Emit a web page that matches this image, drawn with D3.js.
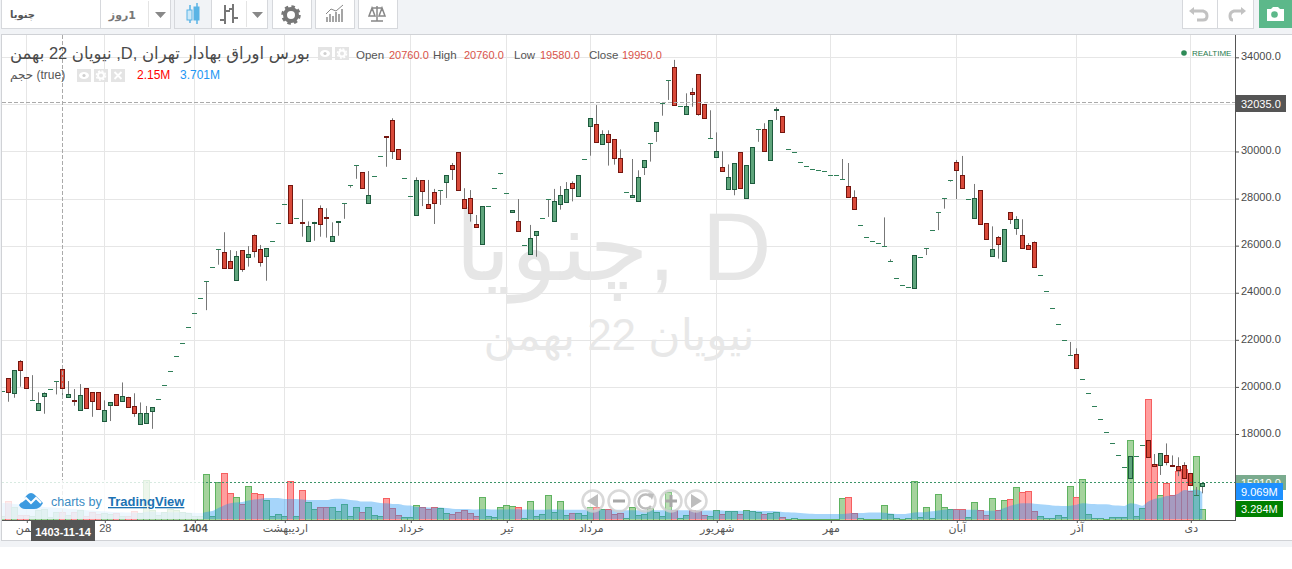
<!DOCTYPE html>
<html>
<head>
<meta charset="utf-8">
<script src="https://cdn.jsdelivr.net/npm/d3@7"></script>
<style>
  html, body { margin: 0; padding: 0; background: #fff; overflow: hidden; }
  svg { display: block; font-family: "Liberation Sans", Arial, "DejaVu Sans", sans-serif; }
</style>
</head>
<body>
<svg id="chart" width="1292" height="569"></svg>
<script>
// daily bars
let opens = [
  19810,20360,19730,21090,20410,19430,19000,19620,19900,20240,
  20760,19580,19440,19000,19920,19770,19770,18540,19220,19670,
  19390,19580,19170,18410,18450,18960,19470,20070,20660,21300,
  21850,22540,23140,23780,24480,25080,25840,25720,25330,24530,
  25800,25500,26440,25840,25550,26180,26950,27760,28550,27160,
  26990,26180,26990,27590,27200,26180,27000,27800,28560,29410,
  29120,27820,28950,29790,30640,31320,30090,28860,28100,27290,
  28780,27760,28270,28350,28690,29410,29960,27970,28010,26910,
  26060,27670,28440,29070,28220,27420,27030,26010,25630,26440,
  27160,27970,27030,27760,27840,28650,28100,29670,31070,31150,
  30300,30730,30520,29710,28270,28040,27880,29330,30350,30860,
  32050,33020,33580,31920,31580,32510,33280,32000,30560,29750,
  29330,28390,28390,29960,28010,28650,30940,30940,29620,31730,
  31490,30090,29960,29540,29370,29240,29200,29160,28990,28990,
  28820,28520,28050,26860,26350,26180,26100,25970,25330,24610,
  24320,24230,24190,25500,25890,26650,27420,28010,28780,29540,
  28990,27970,27160,28350,26950,25550,26350,25330,27420,26740,
  26440,26010,26140,24740,24060,23340,22660,21980,21340,21380,
  20320,19730,19170,18620,18070,17600,17090,16580,16120,17050,
  17520,17730,16710,16670,17090,16670,16630,16670,16330,15390,15780
];
let highs = [
  19810,20360,20690,21140,20410,20500,19770,19770,19900,20240,
  20760,20250,19910,20120,19920,19770,19770,19430,19340,19670,
  20190,19580,19730,19340,19190,19130,19470,20070,20660,21300,
  21850,22540,23140,23780,24480,25080,25840,26570,25810,25770,
  25800,25980,26480,26030,25890,26180,26950,27760,28550,27160,
  27970,27030,27010,27710,27590,26990,27030,27800,28560,29410,
  29120,29170,28950,29790,30640,31410,30090,28860,28100,28900,
  28780,28790,28410,28350,28990,29510,29960,28440,28360,27300,
  27670,27670,28440,29070,28220,27500,27980,26010,26880,26610,
  27160,27970,28410,28530,28700,28730,28990,29670,31410,31970,
  30900,30900,30520,30090,28270,29680,29200,29620,30350,31240,
  32050,33020,33890,31920,32470,32700,33280,32000,31750,30810,
  30010,29450,29500,29960,29410,30180,30940,31200,31320,31880,
  31490,30090,29960,29540,29370,29240,29200,29160,28990,28990,
  29680,29510,28350,26860,26350,26180,26100,27200,25420,24610,
  24320,24230,25590,25500,25890,26650,27420,28010,28780,29640,
  29810,27970,28620,28350,26950,26820,26410,26690,27420,27250,
  27120,26110,26180,24740,24060,23340,22660,21980,21910,21640,
  20320,19730,19170,18620,18070,17600,17090,16580,17050,17050,
  17520,17730,17150,17180,17600,17090,17010,16800,16330,15750,15910
];
let lows = [
  19810,19370,19540,20010,19940,19430,19000,18860,19900,19680,
  19580,19580,19200,19000,19090,18730,19050,18540,18550,19220,
  19390,19130,18730,18410,18450,18220,19470,20070,20660,21300,
  21850,22540,23140,23780,23260,25080,25190,25040,25040,24530,
  24890,25110,25500,25110,24510,26180,26950,27760,26950,27160,
  26380,26180,26210,26380,26340,26180,26420,27140,28460,28840,
  28440,27770,28950,29790,29350,29680,29670,28860,28100,27290,
  27680,27590,26920,27730,28020,28790,28350,27590,27020,26800,
  26060,27670,28440,29030,28220,27420,26610,26010,25630,25530,
  27160,27220,27030,27530,27840,27880,28100,29670,29820,30390,
  30300,29400,29440,29120,28270,28040,27880,29000,29570,30410,
  31520,32190,31960,31920,31580,31900,31520,31410,30560,29750,
  29160,28390,28140,28440,28010,28650,30410,29990,29620,31340,
  30810,30090,29960,29540,29370,29240,29200,29160,28990,28990,
  28820,28050,27540,26860,26350,26180,26100,25970,25330,24610,
  24320,24230,24190,25500,25600,26650,26660,27570,28720,27980,
  28440,27970,27160,26910,26270,25550,25450,25330,26920,26460,
  25890,25840,25080,24740,24060,23340,22660,21980,21340,20790,
  20320,19730,19170,18620,18070,17600,17090,16580,16120,17050,
  17520,17010,16610,16260,16670,16610,16210,16120,15820,15390,15480
];
let closes = [
  19810,19770,20690,20690,19940,19430,19300,19730,19900,20240,
  19950,19680,19420,19640,19090,19370,19050,19000,19340,19220,
  19600,19130,18880,18880,18880,19130,19470,20070,20660,21300,
  21850,22540,23140,23780,24480,25080,25840,25040,25040,25550,
  24990,25630,25760,25290,25890,26180,26950,27760,26950,27160,
  26960,26820,27010,26910,27170,26400,27030,27800,28560,29410,
  28440,28140,28950,29790,30610,29990,29670,28860,28100,28780,
  28310,27590,27800,28350,28990,29240,28350,27590,27370,26800,
  27670,27670,28440,29070,28220,27500,26610,26010,26310,26610,
  27160,27970,27880,28140,28390,28440,28990,29670,31410,30390,
  30730,30390,29710,29120,28270,28140,28900,29620,30350,31240,
  32050,33020,31960,31920,31920,32430,31600,31410,30560,30010,
  29160,28900,29500,28440,29410,30180,30940,29990,31320,31800,
  30810,30090,29960,29540,29370,29240,29200,29160,28990,28990,
  28820,28050,27540,26860,26350,26180,26100,25970,25330,24610,
  24320,24230,25590,25500,25890,26650,27420,28010,28780,29200,
  28440,27970,28010,26910,26270,25840,26060,26690,27120,27120,
  25890,25840,25080,24740,24060,23340,22660,21980,21340,20790,
  20320,19730,19170,18620,18070,17600,17090,16580,17050,17050,
  17520,17010,16610,17180,16800,16610,16460,16120,15820,15390,15910
];
// volume in millions
let volumes = [
  1.0,6.0,4.1,1.4,1.4,0.8,3.1,3.4,0.7,2.4,
  2.15,1.4,2.4,3.1,1.0,2.4,1.7,2.0,1.7,2.0,
  1.0,1.0,2.7,2.0,13.2,3.1,1.4,2.4,3.4,3.1,
  2.4,2.0,1.0,1.0,15.2,0.9,12.4,15.5,8.7,7.4,
  5.1,11.1,8.7,8.4,6.3,0.9,1.6,0.9,12.8,0.9,
  9.7,5.7,3.3,4.0,4.0,4.0,2.6,5.0,0.9,4.0,
  2.3,4.0,1.3,0.9,7.0,3.6,1.3,0.6,0.6,4.6,
  4.0,3.3,4.0,3.6,1.9,1.6,2.3,2.9,1.9,0.9,
  7.4,0.9,0.6,4.0,4.6,4.3,4.0,0.2,6.0,0.9,
  1.6,8.0,2.3,6.0,1.3,1.9,1.9,1.3,4.0,4.0,
  3.3,3.3,1.6,1.9,0.2,4.0,1.3,1.6,3.6,2.3,
  0.9,9.1,2.9,0.2,1.3,2.9,2.6,1.3,0.9,2.9,
  1.6,2.6,2.6,1.6,2.9,2.6,2.3,1.6,1.9,2.3,
  0.6,0,0.2,0,0,0,0,0,0,0,
  7.0,7.4,1.9,0.2,0,0,0,4.6,1.6,0.2,
  0,0.2,12.8,0.6,4.0,0.2,8.4,4.0,3.3,3.3,
  3.3,0.6,5.7,2.9,1.3,7.0,2.9,6.3,6.7,10.7,
  9.1,9.4,2.6,0.9,0.2,0.2,1.3,0.6,11.1,7.4,
  13.5,1.6,0.3,0.2,0,0.6,0.6,0.6,26.7,0.9,
  3.6,40.6,18.5,8.0,12.1,8.0,16.2,17.0,9.4,21.3,3.284
];
let volumeAvg = [
  5.4,5.3,5.1,4.9,4.7,4.5,4.3,4.1,4.0,3.8,
  3.701,3.5,3.4,3.2,3.0,2.9,2.7,2.6,2.5,2.4,
  2.3,2.2,2.2,2.1,2.5,2.5,2.4,2.3,2.3,2.3,
  2.3,2.2,2.1,2.0,2.4,2.7,3.7,4.7,5.3,5.6,
  5.8,6.3,6.6,6.8,7.1,7.1,7.1,6.8,6.8,6.8,
  6.6,6.4,6.4,6.4,6.4,6.8,6.9,6.8,6.4,6.3,
  5.9,5.9,5.8,5.4,5.3,5.1,5.1,4.7,4.6,4.1,
  4.1,3.9,3.9,3.9,3.7,3.5,3.4,3.4,3.3,3.2,
  3.4,3.3,3.2,3.2,3.2,3.3,3.3,3.2,3.2,3.1,
  3.1,3.2,3.2,3.2,3.1,3.1,3.1,3.1,3.1,3.2,
  3.2,3.2,3.1,3.1,3.0,3.0,3.0,3.0,3.0,3.0,
  3.0,3.1,3.1,3.0,3.0,3.0,3.0,2.9,2.9,2.9,
  2.9,2.8,2.8,2.8,2.8,2.8,2.8,2.7,2.7,2.6,
  2.4,2.3,2.2,2.0,1.9,1.8,1.7,1.7,1.7,1.7,
  1.7,1.9,2.0,2.0,2.1,2.2,2.2,2.1,1.9,1.7,
  1.7,1.9,2.2,2.3,2.4,2.6,2.9,3.1,3.3,3.2,
  3.1,3.1,3.1,3.0,2.8,2.8,3.0,3.7,4.5,5.0,
  5.3,5.3,5.2,5.0,4.8,4.6,4.5,4.4,4.5,4.8,
  5.3,5.2,5.1,5.0,5.0,4.7,4.6,4.4,5.3,5.1,
  4.5,5.9,6.8,7.1,7.8,8.0,8.6,9.8,9.7,10.0,9.069
];
let priceTicks = [34000,32000,30000,28000,26000,24000,22000,20000,18000];
let timeTickBars = [4,17,32,47,68,84,98,119,138,159,179,198];
let timeTickLabels = ["بهمن","28","1404","اردیبهشت","خرداد","تیر","مرداد","شهریور","مهر","آبان","آذر","دی"];
let crossBar = 10, crossPrice = 32035, lastPrice = 15910;

var svg = d3.select("#chart");
var pane = {left: 2, right: 1235, top: 35, bottom: 520};

var xScale = d3.scaleLinear().domain([0, opens.length - 1]).range([2.3, 1202.3]);
var yScale = d3.scaleLinear().domain([34000, 18000]).range([57.3, 434]);
var volScale = d3.scaleLinear().domain([0, 44]).range([519, 389.2]);

var isUp = function(i) { return closes[i] >= opens[i]; };
var bars = d3.range(opens.length);
var snap = function(v) { return Math.floor(v + 0.2) + 0.5; };
var barX = function(i) { return Math.round(xScale(i)) + 0.5; };

// page background and chart frame
svg.append("rect").attr("x", 0).attr("y", 0).attr("width", 1292).attr("height", 547).attr("fill", "#f1f3f6");
svg.append("rect").attr("x", 1.5).attr("y", 34.5).attr("width", 1300).attr("height", 506)
  .attr("fill", "#fff").attr("stroke", "#d0d2d6");

// grid
svg.append("g").selectAll("line").data(priceTicks).join("line")
  .attr("x1", pane.left).attr("x2", pane.right)
  .attr("y1", d => Math.round(yScale(d)) + 0.5).attr("y2", d => Math.round(yScale(d)) + 0.5)
  .attr("stroke", "#e6e6e6");
svg.append("g").selectAll("line").data(timeTickBars).join("line")
  .attr("x1", d => barX(d)).attr("x2", d => barX(d))
  .attr("y1", pane.top).attr("y2", pane.bottom)
  .attr("stroke", "#e6e6e6");

// watermarks
svg.append("text").attr("x", 613).attr("y", 280).attr("text-anchor", "middle")
  .attr("font-size", 96).attr("fill", "#e6e6e6").attr("font-family", "'Liberation Sans','DejaVu Sans',sans-serif")
  .text("چنویا, D");
svg.append("text").attr("x", 619).attr("y", 350).attr("text-anchor", "middle")
  .attr("font-size", 44).attr("fill", "#e8e8e8")
  .text("نیویان 22 بهمن");

var clip = svg.append("defs").append("clipPath").attr("id", "pane");
clip.append("rect").attr("x", pane.left).attr("y", pane.top)
  .attr("width", pane.right - pane.left).attr("height", pane.bottom - pane.top);
var plot = svg.append("g").attr("clip-path", "url(#pane)");

// volume bars with the average area on top
plot.append("g").selectAll("rect").data(bars).join("rect")
  .attr("x", i => barX(i) - 3)
  .attr("width", 6)
  .attr("y", i => snap(volScale(volumes[i])))
  .attr("height", i => Math.max(0, 520.5 - snap(volScale(volumes[i]))))
  .attr("fill", i => isUp(i) ? "#a5d39d" : "#ff9e9e")
  .attr("stroke", i => isUp(i) ? "#5fb360" : "#f65f60");
plot.append("path").datum(bars)
  .attr("d", d3.area().x(i => xScale(i)).y0(volScale(0)).y1(i => volScale(volumeAvg[i])).curve(d3.curveMonotoneX))
  .attr("fill", "#2196f3").attr("fill-opacity", 0.4);

// tradingview attribution sits over the volume
svg.append("rect").attr("x", 2).attr("y", 480).attr("width", 201).attr("height", 39)
  .attr("fill", "#fff").attr("fill-opacity", 0.8);
svg.append("path").attr("d", "M19 505 L27 495 Q31 491 35 495 L43 503 Q40 509 34 509 L25 509 Q21 509 19 505 Z")
  .attr("fill", "#3c9ae0");
svg.append("path").attr("d", "M21 502 L26 498 L31 503 L36 498 L41 503")
  .attr("fill", "none").attr("stroke", "#fff").attr("stroke-width", 2);
svg.append("text").attr("x", 51).attr("y", 506).attr("font-size", 12.5).attr("fill", "#3b8cc4").text("charts by");
svg.append("text").attr("x", 108).attr("y", 506).attr("font-size", 13).attr("font-weight", "bold")
  .attr("fill", "#1c72b3").attr("text-decoration", "underline").text("TradingView");

// candles
plot.append("g").selectAll("line").data(bars).join("line")
  .attr("x1", i => barX(i)).attr("x2", i => barX(i))
  .attr("y1", i => yScale(highs[i])).attr("y2", i => yScale(lows[i]))
  .attr("stroke", "#777");
plot.append("g").selectAll("rect").data(bars.filter(i => opens[i] !== closes[i])).join("rect")
  .attr("x", i => barX(i) - 2)
  .attr("width", 4)
  .attr("y", i => snap(yScale(Math.max(opens[i], closes[i]))))
  .attr("height", i => Math.max(1, snap(yScale(Math.min(opens[i], closes[i]))) - snap(yScale(Math.max(opens[i], closes[i])))))
  .attr("fill", i => isUp(i) ? "#5fa57c" : "#d94a3a")
  .attr("stroke", i => isUp(i) ? "#1d5a3d" : "#74160f");
plot.append("g").selectAll("line").data(bars.filter(i => opens[i] === closes[i])).join("line")
  .attr("x1", i => barX(i) - 2.5).attr("x2", i => barX(i) + 2.5)
  .attr("y1", i => snap(yScale(closes[i]))).attr("y2", i => snap(yScale(closes[i])))
  .attr("stroke", "#2f7f58");

// last price and crosshair
plot.append("line").attr("x1", pane.left).attr("x2", pane.right)
  .attr("y1", 482.5).attr("y2", 482.5)
  .attr("stroke", "#3c9468").attr("stroke-dasharray", "2 2");
plot.append("line").attr("x1", pane.left).attr("x2", pane.right).attr("y1", 102.5).attr("y2", 102.5)
  .attr("stroke", "#aaa").attr("stroke-dasharray", "4 2");
plot.append("line").attr("x1", barX(crossBar)).attr("x2", barX(crossBar))
  .attr("y1", pane.top).attr("y2", pane.bottom)
  .attr("stroke", "#aaa").attr("stroke-dasharray", "4 2");

// navigation buttons
var navX = [593, 619, 645, 671, 696];
svg.append("g").selectAll("circle").data(navX).join("circle")
  .attr("cx", d => d).attr("cy", 501).attr("r", 10.5)
  .attr("fill", "#fff").attr("fill-opacity", 0.25).attr("stroke", "#cfcfcf").attr("stroke-opacity", 0.8).attr("stroke-width", 2.5);
svg.append("path").attr("d", "M598 494 V508 L587 501 Z").attr("fill", "#bdbdbd");
svg.append("path").attr("d", "M691 494 V508 L702 501 Z").attr("fill", "#bdbdbd");
svg.append("path").attr("d", "M613 501 H625 M665 501 H677 M671 495 V507").attr("stroke", "#a8a8a8").attr("stroke-width", 3);
svg.append("path").attr("d", "M651 497 A7 7 0 1 0 651 506").attr("fill", "none").attr("stroke", "#bdbdbd").attr("stroke-width", 2.5);
svg.append("path").attr("d", "M648 493 L654 494 L652 500 Z").attr("fill", "#bdbdbd");

// axes
var xAxis = d3.axisBottom(d3.scaleLinear().domain(xScale.domain()).range([2.8, 1202.8]))
  .tickValues(timeTickBars).tickSize(3).tickSizeOuter(0)
  .tickFormat((d, i) => timeTickLabels[i]);
var gx = svg.append("g").attr("transform", "translate(0,520)").call(xAxis);
gx.select(".domain").remove();
svg.append("line").attr("x1", 2).attr("x2", 1235).attr("y1", 520.5).attr("y2", 520.5).attr("stroke", "#555");
gx.selectAll("text").attr("font-size", 11).attr("fill", "#555").attr("y", 4).attr("dy", "0.71em")
  .attr("font-family", "'Liberation Sans','DejaVu Sans',sans-serif");
gx.selectAll("line").attr("stroke", "#555");
gx.selectAll(".tick").filter((d, i) => timeTickLabels[i] === "1404").select("text").attr("font-weight", "bold");

var yAxis = d3.axisRight(yScale).tickValues(priceTicks).tickSize(4).tickSizeOuter(0)
  .tickFormat(d => d3.format(".1f")(d));
var gy = svg.append("g").attr("transform", "translate(1235,0)").call(yAxis);
gy.select(".domain").remove();
svg.append("line").attr("x1", 1235.5).attr("x2", 1235.5).attr("y1", 35).attr("y2", 521).attr("stroke", "#555");
gy.selectAll("text").attr("font-size", 11).attr("fill", "#4a4a4a").attr("x", 6).attr("dy", "0.2em");
gy.selectAll("line").attr("stroke", "#555");

// price and volume flags
function flag(y0, h, w, bg, label) {
  svg.append("rect").attr("x", 1236).attr("y", y0).attr("width", w).attr("height", h).attr("fill", bg);
  svg.append("text").attr("x", 1241).attr("y", y0 + h / 2 + 4).attr("font-size", 11)
    .attr("fill", "#fff").text(label);
}
flag(95, 17, 50, "#555", d3.format(".1f")(crossPrice));
flag(475, 15, 50, "#7aab8e", d3.format(".1f")(lastPrice));
flag(483, 17, 47, "#1e90ff", d3.format(".3f")(volumeAvg[volumeAvg.length - 1]) + "M");
flag(501, 16, 47, "#008000", d3.format(".3f")(volumes[volumes.length - 1]) + "M");

// crosshair date
svg.append("rect").attr("x", 31).attr("y", 521).attr("width", 64).attr("height", 20).attr("fill", "#555");
svg.append("text").attr("x", 63).attr("y", 536).attr("text-anchor", "middle").attr("font-size", 11)
  .attr("font-weight", "bold").attr("fill", "#fff").text("1403-11-14");

// legend
svg.append("text").attr("x", 10).attr("y", 59).attr("font-size", 16.5).attr("fill", "#4a4a4a")
  .attr("font-family", "'Liberation Sans','DejaVu Sans',sans-serif")
  .text("نیویان 22 بهمن ,D, بورس اوراق بهادار تهران");
var legendIcons = [[318, 47, "eye"], [335, 47, "gear"], [77, 69, "eye"], [94, 69, "gear"], [111, 69, "close"]];
svg.append("g").selectAll("rect").data(legendIcons).join("rect")
  .attr("x", d => d[0]).attr("y", d => d[1]).attr("width", 14).attr("height", 13).attr("fill", "#e4e4e4");
legendIcons.forEach(function(d) {
  var cx = d[0] + 7, cy = d[1] + 6.5;
  if (d[2] === "close") {
    svg.append("path").attr("d", "M" + (cx - 3.5) + " " + (cy - 3.5) + " L" + (cx + 3.5) + " " + (cy + 3.5) + " M" + (cx + 3.5) + " " + (cy - 3.5) + " L" + (cx - 3.5) + " " + (cy + 3.5))
      .attr("stroke", "#fff").attr("stroke-width", 1.8);
  } else if (d[2] === "eye") {
    svg.append("ellipse").attr("cx", cx).attr("cy", cy).attr("rx", 5).attr("ry", 3.5).attr("fill", "#fff");
    svg.append("circle").attr("cx", cx).attr("cy", cy).attr("r", 1.6).attr("fill", "#cfcfcf");
  } else {
    svg.append("circle").attr("cx", cx).attr("cy", cy).attr("r", 3).attr("fill", "none").attr("stroke", "#fff").attr("stroke-width", 2);
    svg.append("circle").attr("cx", cx).attr("cy", cy).attr("r", 4.6).attr("fill", "none").attr("stroke", "#fff").attr("stroke-width", 1.4).attr("stroke-dasharray", "2 1.6");
  }
});

var ohlcLabels = [["Open", 356, 20760, 389], ["High", 433, 20760, 464], ["Low", 514, 19580, 540], ["Close", 589, 19950, 622]];
ohlcLabels.forEach(function(d) {
  svg.append("text").attr("x", d[1]).attr("y", 59).attr("font-size", 11.5).attr("fill", "#555").text(d[0]);
  svg.append("text").attr("x", d[3]).attr("y", 59).attr("font-size", 11).attr("fill", "#d9534a").text(d3.format(".1f")(d[2]));
});
svg.append("text").attr("x", 10).attr("y", 79).attr("font-size", 12).attr("fill", "#555")
  .attr("font-family", "'Liberation Sans','DejaVu Sans',sans-serif").text("حجم (true)");
svg.append("text").attr("x", 137).attr("y", 79).attr("font-size", 12).attr("fill", "#ff0000").text(volumes[crossBar] + "M");
svg.append("text").attr("x", 180).attr("y", 79).attr("font-size", 12).attr("fill", "#2196f3").text(volumeAvg[crossBar] + "M");

svg.append("circle").attr("cx", 1184).attr("cy", 53).attr("r", 2.8).attr("fill", "#2e8b57");
svg.append("text").attr("x", 1192).attr("y", 56).attr("font-size", 8).attr("fill", "#1f7a4d").text("REALTIME");

// toolbar
var boxes = [[1, 99], [100, 70], [174, 37], [211, 56], [272, 39], [315, 39], [358, 39], [1182, 35], [1217, 36]];
svg.append("g").selectAll("rect").data(boxes).join("rect")
  .attr("x", d => d[0] + 0.5).attr("y", -1).attr("width", d => d[1]).attr("height", 29.5)
  .attr("fill", (d, i) => i === 2 ? "#f1f3f6" : "#fff").attr("stroke", "#d6d8dc");
svg.append("rect").attr("x", 1259).attr("y", 0).attr("width", 33).attr("height", 28).attr("fill", "#5cb88a");
svg.append("text").attr("x", 10).attr("y", 18).attr("font-size", 10).attr("font-weight", "bold").attr("fill", "#555")
  .attr("font-family", "'DejaVu Sans',sans-serif").text("چنویا");
svg.append("text").attr("x", 136).attr("y", 19).attr("font-size", 11).attr("font-weight", "bold").attr("fill", "#777")
  .attr("font-family", "'DejaVu Sans',sans-serif").style("direction", "rtl").text("1روز");
svg.append("path").attr("d", "M155 12 H166 L160.5 18 Z M252 12 H263 L257.5 18 Z").attr("fill", "#888");
svg.append("path").attr("d", "M148.5 1 V27 M246.5 1 V27").attr("stroke", "#e4e4e4");
// chart style icons
svg.append("path").attr("d", "M190 5 V23 M197 3 V24").attr("stroke", "#5ab4e5").attr("stroke-width", 1.5);
svg.append("rect").attr("x", 187).attr("y", 10).attr("width", 5).attr("height", 10).attr("fill", "#cde9f8").attr("stroke", "#5ab4e5");
svg.append("rect").attr("x", 194).attr("y", 7).attr("width", 5).attr("height", 13).attr("fill", "#5ab4e5").attr("stroke", "#5ab4e5");
svg.append("path").attr("d", "M225 5 V24 M220 20 H225 M225 11 H230 M233 4 V23 M229 9 H233 M233 18 H238")
  .attr("fill", "none").attr("stroke", "#777").attr("stroke-width", 2);
// gear
svg.append("circle").attr("cx", 291).attr("cy", 15).attr("r", 6).attr("fill", "none").attr("stroke", "#777").attr("stroke-width", 4);
svg.append("circle").attr("cx", 291).attr("cy", 15).attr("r", 8.5).attr("fill", "none").attr("stroke", "#777").attr("stroke-width", 2.5).attr("stroke-dasharray", "3.5 3.2");
// indicators
svg.append("path").attr("d", "M327 22 V17 M330 22 V14 M333 22 V16 M336 22 V12 M339 22 V14 M342 22 V9").attr("stroke", "#888").attr("stroke-width", 1.5);
svg.append("path").attr("d", "M326 14 L331 9 L336 11 L343 5").attr("fill", "none").attr("stroke", "#888");
// compare scales
svg.append("path").attr("d", "M377 6 V21 M371 21 H383 M372 8 H382 M372 8 L369 16 H375 Z M382 8 L379 16 H385 Z")
  .attr("fill", "none").attr("stroke", "#888").attr("stroke-width", 1.5);
// undo, redo, camera
svg.append("path").attr("d", "M1193 11 H1203 Q1207 12 1207 16 Q1207 20 1203 20 H1197").attr("fill", "none").attr("stroke", "#c2c2c2").attr("stroke-width", 3);
svg.append("path").attr("d", "M1194 7 L1194 15 L1189 11 Z").attr("fill", "#c2c2c2");
svg.append("path").attr("d", "M1242 11 H1234 Q1230 12 1230 16 Q1230 20 1233 20").attr("fill", "none").attr("stroke", "#c2c2c2").attr("stroke-width", 3);
svg.append("path").attr("d", "M1241 7 L1241 15 L1246 11 Z").attr("fill", "#c2c2c2");
svg.append("path").attr("d", "M1267 9 H1271 L1273 7 H1278 L1280 9 H1284 V21 H1267 Z").attr("fill", "#fff");
svg.append("circle").attr("cx", 1274.5).attr("cy", 14.5).attr("r", 3.3).attr("fill", "#5cb88a");
</script>
</body>
</html>
